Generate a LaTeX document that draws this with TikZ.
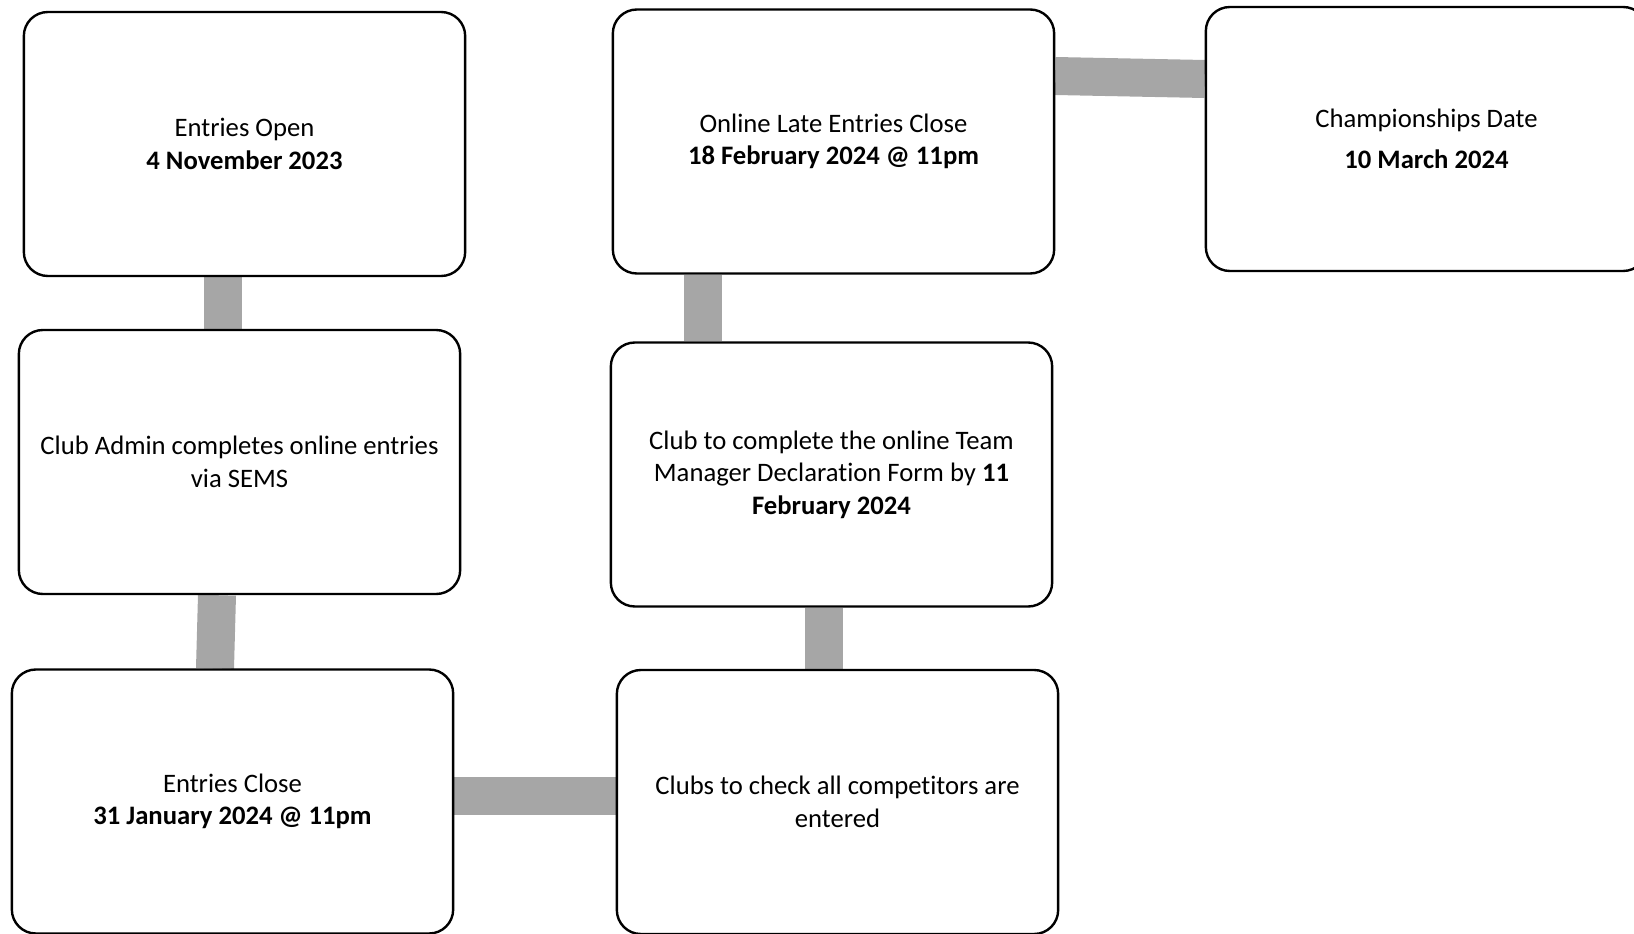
\documentclass[tikz,border=0pt]{standalone}
\usepackage{fontspec}
\setmainfont{Carlito}[Ligatures=NoCommon]
\usetikzlibrary{positioning,calc,backgrounds}
\definecolor{ink}{HTML}{000000}
\definecolor{bar}{HTML}{A6A6A6}
\tikzset{
  stage/.style={draw=ink, line width=1.8pt, rounded corners=18pt, fill=white,
    align=center, minimum width=331pt, minimum height=198pt, inner sep=4pt,
    text=ink, font=\fontsize{20pt}{24.4pt}\selectfont},
  link/.style={line width=28.5pt, color=bar},
}
\begin{document}
\begin{tikzpicture}[x=0.75pt, y=-0.75pt]
    \path[use as bounding box, clip] (0,0) rectangle (1634,934);
    \node[stage] (open) at (244.5,144) {Entries Open\\\textbf{4 November 2023}};
    \node[stage] (admin) at (239.5,462) {Club Admin completes online entries\\via SEMS};
    \node[stage] (close) at (232.5,801.5) {Entries Close\\\textbf{31 January 2024 @ 11pm}};
    \node[stage] (check) at (837.5,802) {Clubs to check all competitors are\\entered};
    \node[stage] (declare) at (831.5,474.5) {Club to complete the online Team\\Manager Declaration Form by \textbf{11}\\\textbf{February 2024}};
    \node[stage] (late) at (833.5,141.5) {Online Late Entries Close\\\textbf{18 February 2024 @ 11pm}};
    \node[stage] (champ) at (1426.5,139) {Championships Date\\[6pt]\textbf{10 March 2024}};
    % grey bars behind the boxes
    \begin{scope}[on background layer]
      \draw[link] ($(open.south)+(-21.5,0)$) -- ($(admin.north)+(-16.5,0)$);
      \draw[link] ($(admin.south)+(-22.5,0)$) -- ($(close.north)+(-17.5,0)$);
      \draw[link] ($(close.east)+(0,-5.5)$) -- ($(check.west)+(0,-6)$);
      \draw[link] ($(check.north)+(-13.5,0)$) -- ($(declare.south)+(-7.5,0)$);
      \draw[link] ($(declare.north)+(-128.5,0)$) -- ($(late.south)+(-130.5,0)$);
      \draw[link] ($(late.east)+(0,-65.5)$) -- ($(champ.west)+(0,-60)$);
    \end{scope}
\end{tikzpicture}
\end{document}
